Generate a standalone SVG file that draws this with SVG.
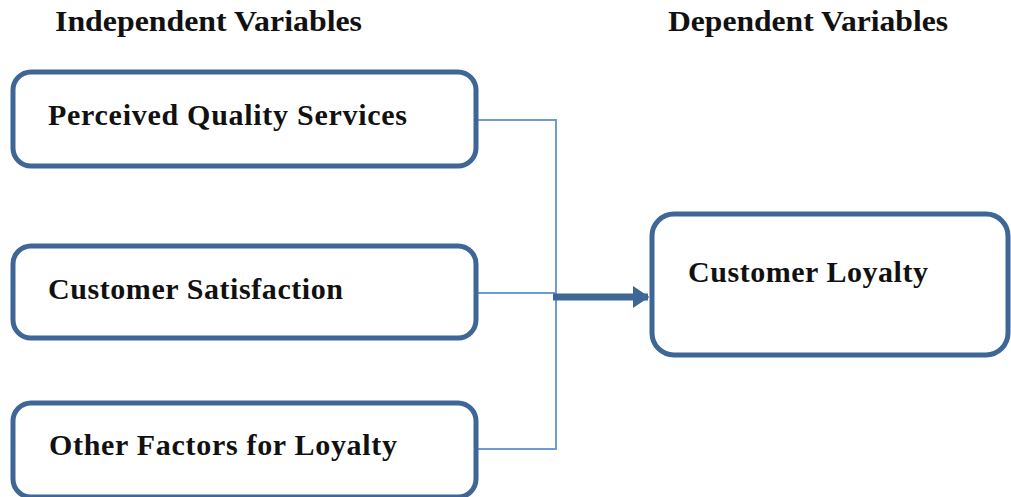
<svg xmlns="http://www.w3.org/2000/svg" width="1011" height="497" viewBox="0 0 1011 497">
<style>
.box{fill:#fff;stroke:#3e6696;stroke-width:5}
.lbl{font-family:"Liberation Serif","Times New Roman",serif;font-weight:bold;font-size:30px;fill:#111}
.hdr{font-family:"Liberation Serif","Times New Roman",serif;font-weight:bold;font-size:29px;fill:#111}
.thin{fill:none;stroke:#6e9bd2;stroke-width:2}
</style>
<defs>
<marker id="ah" markerWidth="4" markerHeight="4" refX="2.2" refY="2" orient="auto" markerUnits="strokeWidth">
<path d="M0,0.4 L2.4,2 L0,3.6 Z" fill="#3e6696"/>
</marker>
</defs>
<rect width="1011" height="497" fill="#fff"/>
<g id="headers">
<text class="hdr" x="55" y="31" textLength="307" lengthAdjust="spacingAndGlyphs">Independent Variables</text>
<text class="hdr" x="668" y="31" textLength="280" lengthAdjust="spacingAndGlyphs">Dependent Variables</text>
</g>
<g id="connectors">
<polyline class="thin" points="476,120 556,120 556,449 476,449"/>
<line class="thin" x1="476" y1="293" x2="556" y2="293"/>
<line x1="553" y1="297" x2="648" y2="297" stroke="#3e6696" stroke-width="7" marker-end="url(#ah)"/>
</g>
<g id="node-pqs">
<rect class="box" x="13" y="72" width="463" height="94" rx="18"/>
<text class="lbl" x="48" y="125" textLength="359" lengthAdjust="spacing">Perceived Quality Services</text>
</g>
<g id="node-cs">
<rect class="box" x="13" y="246" width="463" height="92" rx="18"/>
<text class="lbl" x="48" y="299" textLength="295" lengthAdjust="spacing">Customer Satisfaction</text>
</g>
<g id="node-of">
<rect class="box" x="13" y="403" width="463" height="94" rx="18"/>
<text class="lbl" x="49" y="455" textLength="348" lengthAdjust="spacing">Other Factors for Loyalty</text>
</g>
<g id="node-cl">
<rect class="box" x="652" y="214" width="356" height="141" rx="22"/>
<text class="lbl" x="688" y="282" textLength="240" lengthAdjust="spacing">Customer Loyalty</text>
</g>
</svg>
